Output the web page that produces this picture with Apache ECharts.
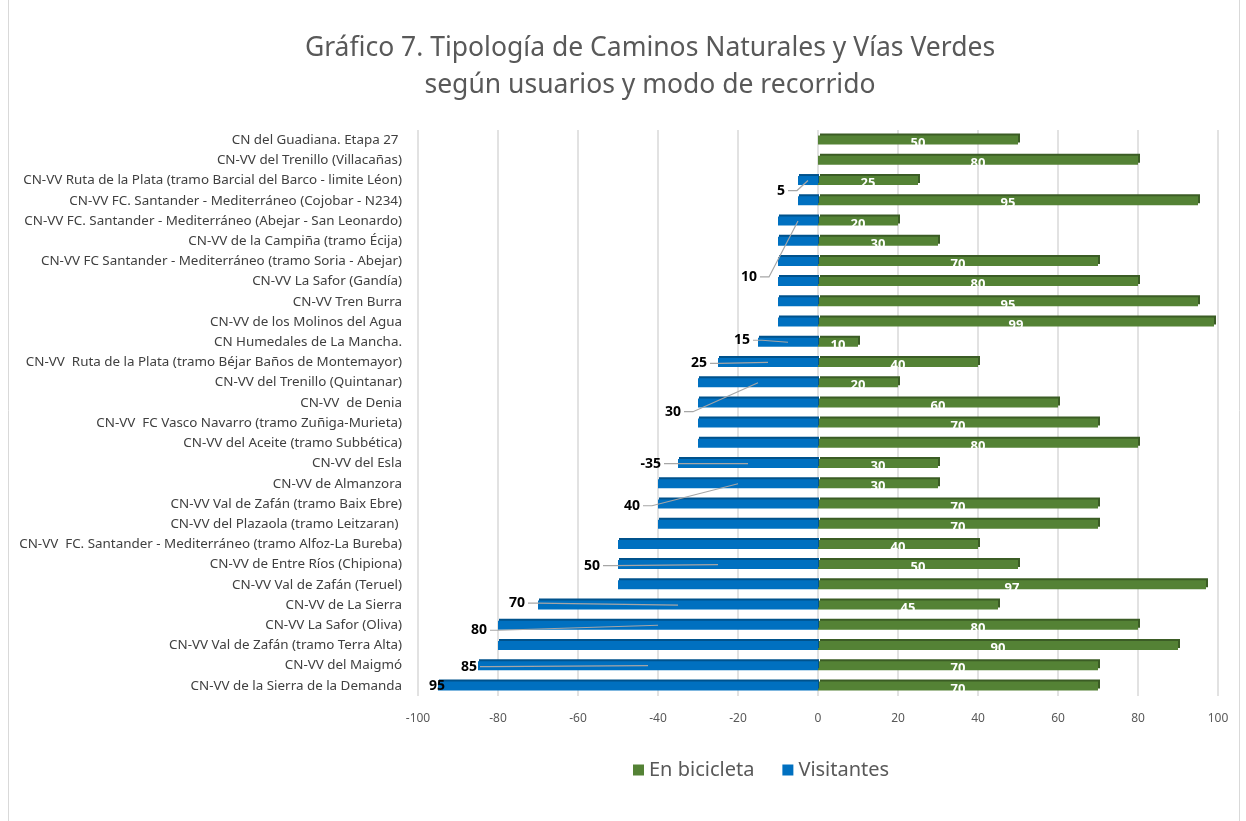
<!DOCTYPE html>
<html>
<head>
<meta charset="utf-8">
<script src="https://cdn.jsdelivr.net/npm/echarts@6/dist/echarts.min.js"></script>
<style>
  html, body { margin: 0; padding: 0; background: #fff; }
  #chart { width: 1246px; height: 821px; }
</style>
</head>
<body>
<div id="chart"></div>
<script>
  // categorías (de arriba a abajo)
  var caminos = [
      'CN del Guadiana. Etapa 27 ',
      'CN-VV del Trenillo (Villacañas)',
      'CN-VV Ruta de la Plata (tramo Barcial del Barco - limite Léon)',
      'CN-VV FC. Santander - Mediterráneo (Cojobar - N234)',
      'CN-VV FC. Santander - Mediterráneo (Abejar - San Leonardo)',
      'CN-VV de la Campiña (tramo Écija)',
      'CN-VV FC Santander - Mediterráneo (tramo Soria - Abejar)',
      'CN-VV La Safor (Gandía)',
      'CN-VV Tren Burra',
      'CN-VV de los Molinos del Agua',
      'CN Humedales de La Mancha.',
      'CN-VV  Ruta de la Plata (tramo Béjar Baños de Montemayor)',
      'CN-VV del Trenillo (Quintanar)',
      'CN-VV  de Denia',
      'CN-VV  FC Vasco Navarro (tramo Zuñiga-Murieta)',
      'CN-VV del Aceite (tramo Subbética)',
      'CN-VV del Esla',
      'CN-VV de Almanzora',
      'CN-VV Val de Zafán (tramo Baix Ebre)',
      'CN-VV del Plazaola (tramo Leitzaran) ',
      'CN-VV  FC. Santander - Mediterráneo (tramo Alfoz-La Bureba)',
      'CN-VV de Entre Ríos (Chipiona)',
      'CN-VV Val de Zafán (Teruel)',
      'CN-VV de La Sierra',
      'CN-VV La Safor (Oliva)',
      'CN-VV Val de Zafán (tramo Terra Alta)',
      'CN-VV del Maigmó',
      'CN-VV de la Sierra de la Demanda'
  ];

  var enBicicleta = [50, 80, 25, 95, 20, 30, 70, 80, 95, 99, 10, 40, 20, 60, 70, 80, 30, 30, 70, 70, 40, 50, 97, 45, 80, 90, 70, 70];

  var visitantes = [0, 0, -5, -5, -10, -10, -10, -10, -10, -10, -15, -25, -30, -30, -30, -30, -35, -40, -40, -40, -50, -50, -50, -70, -80, -80, -85, -95];

  // etiquetas de Visitantes que aparecen en el gráfico ('' = sin etiqueta)
  var etiquetasVisitantes = ['', '', '5', '', '10', '', '', '', '', '', '15', '25', '30', '', '', '', '-35', '40', '', '', '', '50', '', '70', '80', '', '85', '95'];

  var ticksX = [-100, -80, -60, -40, -20, 0, 20, 40, 60, 80, 100];

  // desplazamiento de cada etiqueta (px) respecto al extremo de la barra: [dx, dy, línea guía]
  var desplazamientos = {
      2: [-13, 10, true],
      4: [-21, 56, true],
      10: [-8, -2, true],
      11: [-11, 1, true],
      12: [-17, 29, true],
      16: [-17, 0, true],
      17: [-18, 22, true],
      21: [-18, 1, true],
      23: [-13, -2, true],
      24: [-11, 5, true],
      26: [-1, 1, true],
      27: [7, 0, false]
  };

  var etiquetasData = [];
  for (var i = 0; i < visitantes.length; i++) {
      if (etiquetasVisitantes[i] !== '') {
          etiquetasData.push([visitantes[i], i, etiquetasVisitantes[i]]);
      }
  }

  var myChart = echarts.init(document.getElementById('chart'));

  option = {
      backgroundColor: '#fff',
      animation: false,
      title: {
          text: 'Gráfico 7. Tipología de Caminos Naturales y Vías Verdes\nsegún usuarios y modo de recorrido',
          left: 645,
          textAlign: 'center',
          top: 25,
          textStyle: {
              fontFamily: 'Noto Sans',
              fontWeight: 'normal',
              fontSize: 26.5,
              lineHeight: 37,
              color: '#595959'
          }
      },
      graphic: [{
          type: 'rect',
          shape: { x: 8.5, y: -2, width: 1231, height: 824 },
          style: { fill: 'none', stroke: '#d9d9d9', lineWidth: 1 },
          silent: true
      }],
      legend: {
          top: 755,
          left: 628,
          itemWidth: 11,
          itemHeight: 11,
          itemGap: 28,
          icon: 'rect',
          data: ['En bicicleta', 'Visitantes'],
          textStyle: {
              fontFamily: 'Noto Sans',
              fontSize: 20,
              color: '#595959'
          }
      },
      grid: {
          left: 418,
          right: 28,
          top: 130,
          bottom: 125
      },
      xAxis: {
          type: 'value',
          min: -100,
          max: 100,
          interval: 20,
          axisLine: { show: false },
          axisTick: { show: false },
          axisLabel: {
              margin: 17,
              fontFamily: 'Noto Sans',
              fontSize: 12,
              color: '#595959',
              formatter: function(v) {
                  return ticksX.indexOf(v) >= 0 ? String(v) : '';
              }
          },
          splitLine: {
              lineStyle: { color: '#d9d9d9', width: 1.5 }
          }
      },
      yAxis: {
          type: 'category',
          inverse: true,
          data: caminos,
          axisLine: { show: false, onZero: false },
          axisTick: { show: false },
          axisLabel: {
              margin: 16,
              fontFamily: 'Noto Sans',
              fontSize: 13.4,
              color: '#404040'
          }
      },
      series: [{
              name: 'En bicicleta',
              type: 'bar',
              barWidth: 9,
              barGap: '-100%',
              data: enBicicleta,
              itemStyle: {
                  color: '#548235',
                  shadowColor: '#3b5c25',
                  shadowOffsetX: 2,
                  shadowOffsetY: -2
              },
              label: {
                  show: true,
                  position: 'inside',
                  offset: [0, 3],
                  color: '#fff',
                  fontFamily: 'Noto Sans',
                  fontWeight: 'bold',
                  fontSize: 13
              }
          }, {
              name: 'Visitantes',
              type: 'bar',
              barWidth: 9,
              barGap: '-100%',
              data: visitantes,
              itemStyle: {
                  color: '#0070c0',
                  shadowColor: '#00528c',
                  shadowOffsetX: 1,
                  shadowOffsetY: -2
              }
          }, {
              // etiquetas de Visitantes con línea guía
              type: 'custom',
              z: 10,
              data: etiquetasData,
              encode: { x: 0, y: 1 },
              renderItem: function(params, api) {
                  var idx = api.value(1);
                  var v = api.value(0);
                  var fin = api.coord([v, idx]);
                  var medio = api.coord([v / 2, idx]);
                  var d = desplazamientos[idx];
                  var tx = fin[0] + d[0];
                  var ty = fin[1] + d[1];
                  var hijos = [];
                  if (d[2]) {
                      hijos.push({
                          type: 'polyline',
                          shape: { points: [[tx + 3, ty], [tx + 12, ty], medio] },
                          style: { fill: 'none', stroke: '#a6a6a6', lineWidth: 1.2 }
                      });
                  }
                  hijos.push({
                      type: 'text',
                      x: tx,
                      y: ty,
                      style: {
                          text: etiquetasData[params.dataIndex][2],
                          align: 'right',
                          verticalAlign: 'middle',
                          font: 'bold 14px "Noto Sans"',
                          fill: '#000'
                      }
                  });
                  return { type: 'group', children: hijos };
              }
          }
      ]
  };
  myChart.setOption(option);
</script>
</body>
</html>
